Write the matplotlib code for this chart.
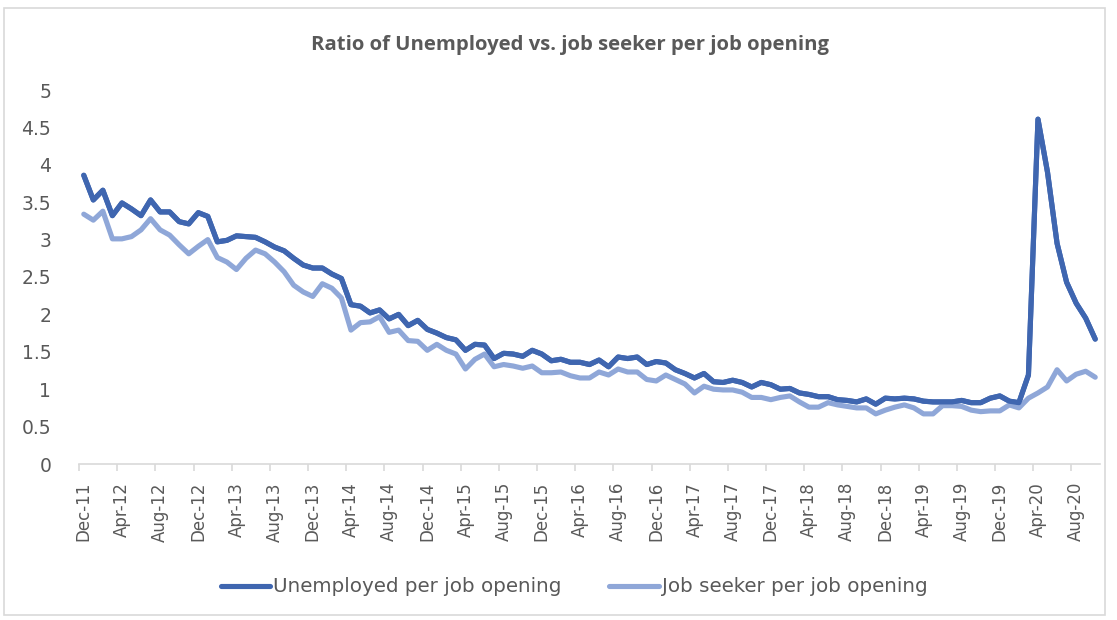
import matplotlib
matplotlib.use("Agg")
import matplotlib.pyplot as plt
from matplotlib.patches import Rectangle
import numpy as np

months = ["Dec", "Jan", "Feb", "Mar", "Apr", "May", "Jun", "Jul", "Aug", "Sep", "Oct", "Nov"]

# Monthly categories Dec-11 .. Oct-20 (107 months)
categories = []
m, y = 0, 11
for _ in range(107):
    categories.append(f"{months[m]}-{y}")
    m += 1
    if m == 1:
        y += 1
    if m == 12:
        m = 0

unemployed = [
    3.86, 3.53, 3.66, 3.32, 3.49, 3.41, 3.32, 3.53, 3.37, 3.37,
    3.24, 3.21, 3.36, 3.31, 2.97, 2.99, 3.05, 3.04, 3.03, 2.97,
    2.90, 2.85, 2.75, 2.66, 2.62, 2.62, 2.54, 2.48, 2.13, 2.11,
    2.02, 2.06, 1.94, 2.00, 1.85, 1.92, 1.80, 1.75, 1.69, 1.66,
    1.52, 1.60, 1.59, 1.41, 1.48, 1.47, 1.44, 1.52, 1.47, 1.38,
    1.40, 1.36, 1.36, 1.33, 1.39, 1.30, 1.43, 1.41, 1.43, 1.33,
    1.37, 1.35, 1.26, 1.21, 1.15, 1.21, 1.10, 1.09, 1.12, 1.09,
    1.03, 1.09, 1.06, 1.00, 1.01, 0.95, 0.93, 0.90, 0.90, 0.86,
    0.85, 0.83, 0.87, 0.80, 0.88, 0.87, 0.88, 0.87, 0.84, 0.83,
    0.83, 0.83, 0.85, 0.82, 0.82, 0.88, 0.91, 0.84, 0.82, 1.19,
    4.61, 3.90, 2.95, 2.43, 2.15, 1.95, 1.67,
]

job_seeker = [
    3.34, 3.26, 3.38, 3.01, 3.01, 3.04, 3.13, 3.28, 3.13, 3.06,
    2.93, 2.81, 2.91, 3.00, 2.76, 2.70, 2.60, 2.75, 2.86, 2.81,
    2.70, 2.57, 2.39, 2.30, 2.24, 2.41, 2.35, 2.22, 1.79, 1.89,
    1.90, 1.97, 1.76, 1.79, 1.65, 1.64, 1.52, 1.60, 1.52, 1.47,
    1.27, 1.40, 1.47, 1.30, 1.33, 1.31, 1.28, 1.31, 1.22, 1.22,
    1.23, 1.18, 1.15, 1.15, 1.23, 1.19, 1.27, 1.23, 1.23, 1.13,
    1.11, 1.19, 1.13, 1.07, 0.95, 1.04, 1.00, 0.99, 0.99, 0.96,
    0.89, 0.89, 0.86, 0.89, 0.91, 0.83, 0.76, 0.76, 0.82, 0.79,
    0.77, 0.75, 0.75, 0.67, 0.72, 0.76, 0.79, 0.75, 0.67, 0.67,
    0.78, 0.78, 0.77, 0.72, 0.70, 0.71, 0.71, 0.79, 0.75, 0.88,
    0.95, 1.03, 1.26, 1.11, 1.20, 1.24, 1.16,
]

y_ticks = [0, 0.5, 1, 1.5, 2, 2.5, 3, 3.5, 4, 4.5, 5]
y_tick_labels = ["0", "0.5", "1", "1.5", "2", "2.5", "3", "3.5", "4", "4.5", "5"]

title = "Ratio of Unemployed vs. job seeker per job opening"
label_unemp = "Unemployed per job opening"
label_seeker = "Job seeker per job opening"

dark = "#3F66B0"
light = "#8FA7D8"
text_c = "#595959"

W, H = 1117, 620
fig = plt.figure(figsize=(W / 100, H / 100), dpi=100)
fig.patch.set_facecolor("white")

# outer chart border
fig.patches.append(Rectangle((4 / W, 1 - 615 / H), (1105 - 4) / W, (615 - 8) / H,
                             transform=fig.transFigure, fill=False,
                             edgecolor="#D9D9D9", linewidth=1.2))

ax = fig.add_axes([79 / W, 1 - 464 / H, (1100 - 79) / W, (464 - 90) / H])
x = np.arange(len(categories))
l1, = ax.plot(x, unemployed, color=dark, lw=3.7, solid_capstyle="round",
              solid_joinstyle="round", label=label_unemp)
l2, = ax.plot(x, job_seeker, color=light, lw=3.7, solid_capstyle="round",
              solid_joinstyle="round", label=label_seeker)
ax.plot(x, unemployed, color=dark, lw=3.7, solid_capstyle="round",
        solid_joinstyle="round", zorder=3)

ax.set_xlim(-0.5, len(categories) - 0.5)
ax.set_ylim(0, 5)

for s in ["top", "right", "left"]:
    ax.spines[s].set_visible(False)
ax.spines["bottom"].set_color("#D9D9D9")
ax.spines["bottom"].set_linewidth(1.2)

ax.set_yticks(y_ticks)
ax.set_yticklabels(y_tick_labels, fontsize=13.5, color=text_c, fontfamily="DejaVu Sans")
ax.tick_params(axis="y", length=0, pad=20)

lab_idx = list(range(0, len(categories), 4))
ax.set_xticks(lab_idx)
ax.set_xticklabels([categories[i] for i in lab_idx], rotation=90, fontsize=12,
                   color=text_c)
ax.tick_params(axis="x", which="major", length=0, pad=13)
ax.set_xticks(np.arange(-0.5, len(categories), 4), minor=True)
ax.tick_params(axis="x", which="minor", length=5, color="#D9D9D9", width=1.2)

fig.text(570 / W, 1 - 45 / H, title, ha="center", va="center", fontsize=14.6,
         fontweight="bold", color=text_c, fontfamily="Open Sans")

leg = fig.legend(handles=[l1, l2], loc="center", bbox_to_anchor=(574 / W, 1 - 587 / H),
                 ncol=2, frameon=False, fontsize=14.3, handlelength=2.5,
                 handletextpad=0.15, columnspacing=2.4, labelcolor=text_c)

fig.savefig("out.png", dpi=100, facecolor="white")
